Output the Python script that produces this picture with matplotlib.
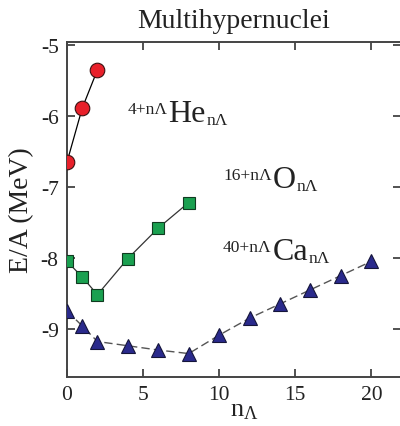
# Binding energy per baryon of multi-Lambda hypernuclei

import matplotlib.pyplot as plt

plt.rcParams['font.family'] = ['Liberation Serif', 'DejaVu Serif']
plt.rcParams['mathtext.fontset'] = 'custom'
plt.rcParams['mathtext.rm'] = 'Liberation Serif'
plt.rcParams['mathtext.it'] = 'Liberation Serif:italic'

# Data: number of Lambdas and E/A (MeV)
n_he = [0, 1, 2]
ea_he = [-6.65, -5.89, -5.35]

n_o = [0, 1, 2, 4, 6, 8]
ea_o = [-8.05, -8.27, -8.52, -8.01, -7.58, -7.22]

n_ca = [0, 1, 2, 4, 6, 8, 10, 12, 14, 16, 18, 20]
ea_ca = [-8.75, -8.96, -9.18, -9.24, -9.30, -9.35, -9.09, -8.85, -8.65, -8.45, -8.25, -8.05]

# nucleus labels: (mass prefix, element, x, y of baseline)
labels = [('4+nΛ', 'He', 6.64, -6.07),
          ('16+nΛ', 'O', 13.5, -7.0),
          ('40+nΛ', 'Ca', 13.5, -8.01)]

fig = plt.figure(figsize=(4.0, 4.27), dpi=100)
ax = fig.add_axes([0.1675, 0.1148, 0.835, 0.784])

ax.plot(n_he, ea_he, '-', color='black', lw=0.9, marker='o', ms=10.5,
        mfc='#e8202a', mec='#3a1010', mew=0.8, zorder=3)
ax.plot(n_o, ea_o, '-', color='#333333', lw=0.9, marker='s', ms=8.5,
        mfc='#1aa050', mec='#103a20', mew=0.8, zorder=3)
ax.plot(n_ca, ea_ca, '--', color='#555555', lw=1.0, dashes=(6, 3), marker='^', ms=10,
        mfc='#2a2a8c', mec='#15153a', mew=0.8, zorder=3)

for pre, elem, x, y in labels:
    main = ax.text(x, y, elem, fontsize=23, ha='left', va='baseline', color='#222222')
    ax.annotate(pre, xy=(0, 1), xycoords=main, xytext=(-0.5, -1.5),
                textcoords='offset points', ha='right', va='top',
                fontsize=12.5, color='#222222')
    ax.annotate('nΛ', xy=(1, 0), xycoords=main, xytext=(0.5, 2.5),
                textcoords='offset points', ha='left', va='baseline',
                fontsize=12.5, color='#222222')

ax.set_xlim(0, 21.95)
ax.set_ylim(-9.68, -4.96)
ax.set_xticks([0, 5, 10, 15, 20])
ax.set_yticks([-5, -6, -7, -8, -9])
ax.set_yticklabels(['-5', '-6', '-7', '-8', '-9'])
ax.tick_params(direction='in', length=6, width=1.2, labelsize=15.5, top=True, right=True,
               colors='#333333', labelcolor='#222222', pad=6)
for s in ax.spines.values():
    s.set_linewidth(1.4)
    s.set_color('#444444')

ax.set_title('Multihypernuclei', fontsize=20, color='#222222', pad=11)
ax.set_xlabel(r'$\mathrm{n}_{\Lambda}$', fontsize=19, color='#222222')
ax.xaxis.set_label_coords(0.53, -0.066)
ax.set_ylabel('E/A (MeV)', fontsize=20, color='#222222')
ax.yaxis.set_label_coords(-0.098, 0.5)

fig.savefig('out.png', dpi=100)
